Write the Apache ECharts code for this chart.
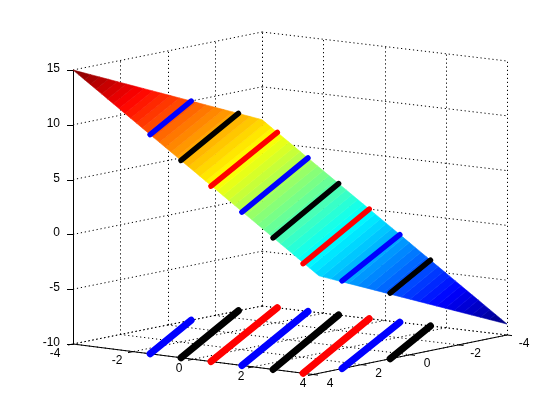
<!DOCTYPE html>
<html>
<head>
<meta charset="utf-8">
<style>html,body{margin:0;padding:0;background:#fff}#chart{width:560px;height:420px}</style>
<script src="https://cdn.jsdelivr.net/npm/echarts@6/dist/echarts.min.js"></script>
</head>
<body>
<div id="chart"></div>
<script>
// ---- data ----
var xTicks = [-4, -2, 0, 2, 4];
var yTicks = [-4, -2, 0, 2, 4];
var zTicks = [-10, -5, 0, 5, 10, 15];

// colour levels of the surface (64 flat bands from z = -9 to z = 15)
var surfaceLevels = [
  -9, -8.625, -8.25, -7.875, -7.5, -7.125, -6.75, -6.375, -6, -5.625, -5.25, -4.875, -4.5, -4.125, -3.75, -3.375,
  -3, -2.625, -2.25, -1.875, -1.5, -1.125, -0.75, -0.375, 0, 0.375, 0.75, 1.125, 1.5, 1.875, 2.25, 2.625,
  3, 3.375, 3.75, 4.125, 4.5, 4.875, 5.25, 5.625, 6, 6.375, 6.75, 7.125, 7.5, 7.875, 8.25, 8.625,
  9, 9.375, 9.75, 10.125, 10.5, 10.875, 11.25, 11.625, 12, 12.375, 12.75, 13.125, 13.5, 13.875, 14.25, 14.625, 15
];
// surface plane z = planeC + planeA*x + planeB*y
var planeA = -2, planeB = 1, planeC = 3;

// the eight lines lying on the surface, and their shadows on the floor
var lineStartX = [-1.43, -0.4, 0.6, 1.63, 2.67, 3.67, 4, 4];
var lineStartY = [4, 4, 4, 4, 4, 4, 2.8, 0.82];
var lineEndX   = [-4, -4, -3.5, -2.5, -1.5, -0.5, 0.5, 1.5];
var lineEndY   = [-1, -3, -4, -4, -4, -4, -4, -4];
var lineZ      = [10, 8, 6, 4, 2, 0, -2, -4];
var lineColors = ['#0000ff', '#000000', '#ff0000', '#0000ff', '#000000', '#ff0000', '#0000ff', '#000000'];

// ---- view: where the box corners land in the picture ----
var floorL = [73, 344], floorF = [313, 374.5], floorR = [507, 335], floorB = [262, 306];
var zPixels = 10.96, zFloor = -10;
var surfaceSkew = 6;

function project(x, y, z) {
  var s = (x + 4) / 8, t = (4 - y) / 8;
  var px = (1 - s) * ((1 - t) * floorL[0] + t * floorB[0]) + s * ((1 - t) * floorF[0] + t * floorR[0]);
  var py = (1 - s) * ((1 - t) * floorL[1] + t * floorB[1]) + s * ((1 - t) * floorF[1] + t * floorR[1]);
  return [px, py - (z - zFloor) * zPixels];
}

function projectSurface(x, y, z) {
  var p = project(x, y, z);
  p[0] += surfaceSkew * ((x + 4) / 8) * ((y + 4) / 8);
  return p;
}

function jet(v) {
  function c(p) { return Math.round(255 * Math.max(0, Math.min(1, 1.5 - Math.abs(4 * v - p)))); }
  return 'rgb(' + c(3) + ',' + c(2) + ',' + c(1) + ')';
}

function clipHalf(poly, sign, level) {
  var out = [];
  function f(p) { return sign * (planeC + planeA * p[0] + planeB * p[1] - level); }
  for (var i = 0; i < poly.length; i++) {
    var a = poly[i], b = poly[(i + 1) % poly.length], fa = f(a), fb = f(b);
    if (fa >= 0) out.push(a);
    if (fa * fb < 0) {
      var k = fa / (fa - fb);
      out.push([a[0] + k * (b[0] - a[0]), a[1] + k * (b[1] - a[1])]);
    }
  }
  return out;
}

var xMin = xTicks[0], xMax = xTicks[xTicks.length - 1];
var yMin = yTicks[0], yMax = yTicks[yTicks.length - 1];
var zMin = zTicks[0], zMax = zTicks[zTicks.length - 1];

// ---- segments in data space ----
var gridSegs = [];
yTicks.forEach(function (y, i) {
  gridSegs.push([xMin, y, zMin, xMin, y, zMax]);
  gridSegs.push([xMin, y, zMin, xMax, y, zMin]);
});
xTicks.forEach(function (x) {
  gridSegs.push([x, yMin, zMin, x, yMin, zMax]);
  gridSegs.push([x, yMin, zMin, x, yMax, zMin]);
});
zTicks.forEach(function (z) {
  gridSegs.push([xMin, yMax, z, xMin, yMin, z]);
  gridSegs.push([xMin, yMin, z, xMax, yMin, z]);
});

var axisSegs = [
  [xMin, yMax, zMin, xMin, yMax, zMax],
  [xMin, yMax, zMin, xMax, yMax, zMin],
  [xMax, yMax, zMin, xMax, yMin, zMin]
];

function crisp(p, q) {
  var a = p.slice(), b = q.slice();
  if (Math.abs(a[0] - b[0]) < 0.01) { a[0] = b[0] = Math.round(a[0]) + 0.5; }
  if (Math.abs(a[1] - b[1]) < 0.01) { a[1] = b[1] = Math.round(a[1]) + 0.5; }
  return [a, b];
}

function segRenderer(style) {
  return function (params, api) {
    var ends = crisp(
      project(api.value(0), api.value(1), api.value(2)),
      project(api.value(3), api.value(4), api.value(5))
    );
    var a = api.coord(ends[0]), b = api.coord(ends[1]);
    return { type: 'line', shape: { x1: a[0], y1: a[1], x2: b[0], y2: b[1] }, style: style };
  };
}

var tickStyle = { stroke: '#000', lineWidth: 1 };

function lineRenderer(floor, width) {
  return function (params, api) {
    var i = params.dataIndex;
    var z = floor ? zMin : lineZ[i];
    var a = api.coord(project(lineStartX[i], lineStartY[i], z));
    var b = api.coord(project(lineEndX[i], lineEndY[i], z));
    return {
      type: 'line',
      shape: { x1: a[0], y1: a[1], x2: b[0], y2: b[1] },
      style: { stroke: lineColors[i], lineWidth: width, lineCap: 'round' }
    };
  };
}

var bands = [];
for (var b = 0; b < surfaceLevels.length - 1; b++) bands.push([surfaceLevels[b], surfaceLevels[b + 1]]);

function textEl(p, text, align) {
  return { type: 'text', x: p[0], y: p[1], style: { text: text, font: '12px "Liberation Sans", Arial, sans-serif', fill: '#000', textAlign: align, textVerticalAlign: 'middle' } };
}

function tick(p0, dx, dy, api) {
  var a = api.coord(p0);
  return { type: 'line', shape: { x1: a[0], y1: a[1], x2: a[0] + dx, y2: a[1] + dy }, style: tickStyle };
}

var series = [
  { name: 'grid', type: 'custom', coordinateSystem: 'cartesian2d', silent: true, clip: false, z: 1,
    data: gridSegs, renderItem: segRenderer({ stroke: '#000', lineWidth: 1, lineDash: [1.2, 2.8] }) },
  { name: 'axes', type: 'custom', coordinateSystem: 'cartesian2d', silent: true, clip: false, z: 2,
    data: axisSegs, renderItem: segRenderer({ stroke: '#000', lineWidth: 1 }) },
  { name: 'xAxisLabels', type: 'custom', coordinateSystem: 'cartesian2d', silent: true, clip: false, z: 2,
    data: xTicks.map(function (x) { return [x]; }),
    renderItem: function (params, api) {
      var x = api.value(0), p = project(x, yMax, zMin);
      var off = api.coord([p[0] - 18 + (x + 4), p[1] + 9.5]);
      return { type: 'group', children: [tick(p, -5, 1, api), textEl(off, String(x), 'center')] };
    } },
  { name: 'yAxisLabels', type: 'custom', coordinateSystem: 'cartesian2d', silent: true, clip: false, z: 2,
    data: yTicks.map(function (y) { return [y]; }),
    renderItem: function (params, api) {
      var y = api.value(0), p = project(xMax, y, zMin);
      var off = api.coord([p[0] + 17, p[1] + 9]);
      return { type: 'group', children: [tick(p, 5, 0.6, api), textEl(off, String(y), 'center')] };
    } },
  { name: 'zAxisLabels', type: 'custom', coordinateSystem: 'cartesian2d', silent: true, clip: false, z: 2,
    data: zTicks.map(function (z) { return [z]; }),
    renderItem: function (params, api) {
      var z = api.value(0), p = project(xMin, yMax, z);
      p[1] = Math.round(p[1]) + 0.5;
      var off = api.coord([p[0] - 13, p[1] - 2]);
      return { type: 'group', children: [tick(p, -6, 0, api), textEl(off, String(z), 'right')] };
    } },
  { name: 'floorLines', type: 'custom', coordinateSystem: 'cartesian2d', silent: true, clip: false, z: 3,
    data: lineZ.map(function (z) { return [z]; }), renderItem: lineRenderer(true, 7) },
  { name: 'surface', type: 'custom', coordinateSystem: 'cartesian2d', silent: true, clip: false, z: 4,
    data: bands,
    renderItem: function (params, api) {
      var lo = api.value(0), hi = api.value(1);
      var box = [[xMin, yMin], [xMax, yMin], [xMax, yMax], [xMin, yMax]];
      var poly = clipHalf(clipHalf(box, 1, lo), -1, hi);
      var pts = poly.map(function (q) {
        return api.coord(projectSurface(q[0], q[1], planeC + planeA * q[0] + planeB * q[1]));
      });
      var col = jet((params.dataIndex + 0.5) / bands.length);
      return { type: 'polygon', shape: { points: pts }, style: { fill: col, stroke: col, lineWidth: 0.6 } };
    } },
  { name: 'surfaceLines', type: 'custom', coordinateSystem: 'cartesian2d', silent: true, clip: false, z: 5,
    data: lineZ.map(function (z) { return [z]; }), renderItem: lineRenderer(false, 5.5) }
];

var chart = echarts.init(document.getElementById('chart'), null, { renderer: 'canvas' });
chart.setOption({
  animation: false,
  backgroundColor: '#fff',
  grid: { left: 0, right: 0, top: 0, bottom: 0 },
  xAxis: { type: 'value', min: 0, max: 560, show: false },
  yAxis: { type: 'value', min: 0, max: 420, inverse: true, show: false },
  series: series
});
</script>
</body>
</html>
